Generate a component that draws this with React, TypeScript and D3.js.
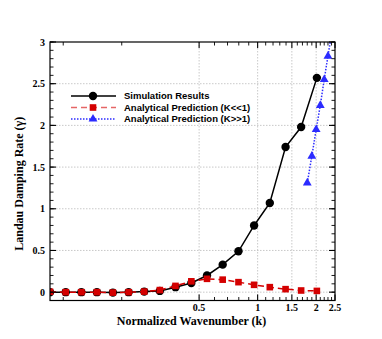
import * as d3 from 'd3';

// Données
const simK = [0.0855, 0.103, 0.124, 0.149, 0.18, 0.217, 0.261, 0.314, 0.378, 0.456, 0.549, 0.661, 0.797, 0.959, 1.155, 1.392, 1.674, 2.017];
const simGamma = [0, 0, 0, 0, -0.005, 0, 0.007, 0.015, 0.06, 0.11, 0.2, 0.33, 0.49, 0.8, 1.07, 1.74, 1.98, 2.57];
const lowGamma = [0.005, 0, 0, 0, -0.005, 0, 0.007, 0.025, 0.075, 0.13, 0.16, 0.15, 0.12, 0.088, 0.06, 0.036, 0.02, 0.015];
const highK = [1.8, 1.9, 2.0, 2.1, 2.2, 2.3, 2.4];
const highGamma = [1.31, 1.63, 1.95, 2.24, 2.55, 2.83, 3.1];

const xMajor = [0.5, 1, 1.5, 2, 2.5];
const xMajorLabels = ['0.5', '1', '1.5', '2', '2.5'];
const xMinor = [0.1, 0.2, 0.6, 0.7, 0.8, 0.9, 1.1, 1.2, 1.3, 1.4, 1.6, 1.7, 1.8, 1.9, 2.1, 2.2, 2.3, 2.4];
const yMajor = [0, 0.5, 1, 1.5, 2, 2.5, 3];
const yMajorLabels = ['0', '0.5', '1', '1.5', '2', '2.5', '3'];

const legendLabels = ['Simulation Results', 'Analytical Prediction (K<<1)', 'Analytical Prediction (K>>1)'];

const W = 382;
const H = 339;
const M = { left: 50, right: 47, top: 42, bottom: 38.5 };
const SERIF = '"Liberation Serif", "Times New Roman", serif';
const SANS = '"Liberation Sans", Arial, sans-serif';

export default function App() {
  const iw = W - M.left - M.right;
  const ih = H - M.top - M.bottom;

  const x = d3.scaleLog().domain([0.0855, 2.5]).range([0, iw]);
  const y = d3.scaleLinear().domain([-0.1, 3]).range([ih, 0]);
  const yMinor = d3.range(-1, 31).map((i) => i / 10);

  const sim = simK.map((k, i) => ({ k, g: simGamma[i] }));
  const low = simK.map((k, i) => ({ k, g: lowGamma[i] }));
  const high = highK.map((k, i) => ({ k, g: highGamma[i] }));

  const line = d3
    .line<{ k: number; g: number }>()
    .x((d) => x(d.k))
    .y((d) => y(d.g));

  const tri = d3.symbol(d3.symbolTriangle, 34)();

  const red = '#d40000';
  const blue = '#2b2bff';

  return (
    <svg width={W} height={H} style={{ position: 'absolute', left: 0, top: 0, background: '#fff' }}>
      <defs>
        <clipPath id="plotClip">
          <rect x={0} y={0} width={iw} height={ih} />
        </clipPath>
      </defs>
      <g transform={`translate(${M.left},${M.top})`}>
        {/* grille pointillée */}
        {yMajor.filter((v) => v < 3).map((v) => (
          <line key={'gy' + v} x1={0} x2={iw} y1={y(v)} y2={y(v)} stroke="#bbb" strokeWidth={0.8} strokeDasharray="1.5,1.5" />
        ))}
        {xMajor.filter((v) => v < 2.5).map((v) => (
          <line key={'gx' + v} x1={x(v)} x2={x(v)} y1={0} y2={ih} stroke="#bbb" strokeWidth={0.8} strokeDasharray="1.5,1.5" />
        ))}

        {/* séries */}
        <g clipPath="url(#plotClip)">
          <path d={line(sim) ?? ''} fill="none" stroke="#000" strokeWidth={1.5} />
          {sim.map((d, i) => (
            <circle key={'s' + i} cx={x(d.k)} cy={y(d.g)} r={4.2} fill="#000" />
          ))}
          <path d={line(low) ?? ''} fill="none" stroke={red} strokeWidth={1.5} strokeDasharray="6,4" />
          {low.map((d, i) => (
            <rect key={'l' + i} x={x(d.k) - 3.3} y={y(d.g) - 3.3} width={6.6} height={6.6} fill={red} />
          ))}
          <path d={line(high) ?? ''} fill="none" stroke={blue} strokeWidth={1.5} strokeDasharray="1.5,1.5" />
          {high.map((d, i) => (
            <path key={'h' + i} d={tri ?? ''} transform={`translate(${x(d.k)},${y(d.g)})`} fill={blue} />
          ))}
        </g>

        {/* cadre et graduations */}
        <rect x={0} y={0} width={iw} height={ih} fill="none" stroke="#000" strokeWidth={1.2} />
        {xMajor.map((v) => (
          <g key={'xM' + v}>
            <line x1={x(v)} x2={x(v)} y1={ih} y2={ih - 6} stroke="#000" strokeWidth={1.1} />
            <line x1={x(v)} x2={x(v)} y1={0} y2={6} stroke="#000" strokeWidth={1.1} />
          </g>
        ))}
        {xMinor.map((v) => (
          <g key={'xm' + v}>
            <line x1={x(v)} x2={x(v)} y1={ih} y2={ih - 3.5} stroke="#000" strokeWidth={0.9} />
            <line x1={x(v)} x2={x(v)} y1={0} y2={3.5} stroke="#000" strokeWidth={0.9} />
          </g>
        ))}
        {yMajor.map((v) => (
          <g key={'yM' + v}>
            <line x1={0} x2={6} y1={y(v)} y2={y(v)} stroke="#000" strokeWidth={1.1} />
            <line x1={iw} x2={iw - 6} y1={y(v)} y2={y(v)} stroke="#000" strokeWidth={1.1} />
          </g>
        ))}
        {yMinor.map((v) => (
          <g key={'ym' + v}>
            <line x1={0} x2={3.5} y1={y(v)} y2={y(v)} stroke="#000" strokeWidth={0.9} />
            <line x1={iw} x2={iw - 3.5} y1={y(v)} y2={y(v)} stroke="#000" strokeWidth={0.9} />
          </g>
        ))}

        {/* étiquettes des axes */}
        {xMajor.map((v, i) => (
          <text key={'xl' + v} x={x(v)} y={ih + 10.5} textAnchor="middle" fontFamily={SERIF} fontWeight="bold" fontSize={10}>
            {xMajorLabels[i]}
          </text>
        ))}
        {yMajor.map((v, i) => (
          <text key={'yl' + v} x={-5} y={y(v) + 3.5} textAnchor="end" fontFamily={SERIF} fontWeight="bold" fontSize={10}>
            {yMajorLabels[i]}
          </text>
        ))}
        <text x={iw / 2 - 1} y={ih + 24} textAnchor="middle" fontFamily={SERIF} fontWeight="bold" fontSize={12}>
          Normalized Wavenumber (k)
        </text>
        <text
          transform={`translate(${-27},${(y(0.3) + y(2.3)) / 2}) rotate(-90)`}
          textAnchor="middle"
          fontFamily={SERIF}
          fontWeight="bold"
          fontSize={12}
        >
          Landau Damping Rate (γ)
        </text>

        {/* légende */}
        {legendLabels.map((label, i) => {
          const ly = 54 + i * 11.5;
          return (
            <g key={'lg' + i}>
              {i === 0 && (
                <>
                  <line x1={21} x2={66} y1={ly} y2={ly} stroke="#000" strokeWidth={1.5} />
                  <circle cx={43} cy={ly} r={4.2} fill="#000" />
                </>
              )}
              {i === 1 && (
                <>
                  <line x1={21} x2={66} y1={ly} y2={ly} stroke={red} strokeOpacity={0.6} strokeWidth={1.5} strokeDasharray="6,4" />
                  <rect x={43 - 3.3} y={ly - 3.3} width={6.6} height={6.6} fill={red} />
                </>
              )}
              {i === 2 && (
                <>
                  <line x1={21} x2={66} y1={ly} y2={ly} stroke={blue} strokeWidth={1.5} strokeDasharray="1.5,1.5" />
                  <path d={tri ?? ''} transform={`translate(43,${ly})`} fill={blue} />
                </>
              )}
              <text x={74} y={ly + 3.4} fontFamily={SANS} fontWeight="bold" fontSize={9.5}>
                {label}
              </text>
            </g>
          );
        })}
      </g>
    </svg>
  );
}
